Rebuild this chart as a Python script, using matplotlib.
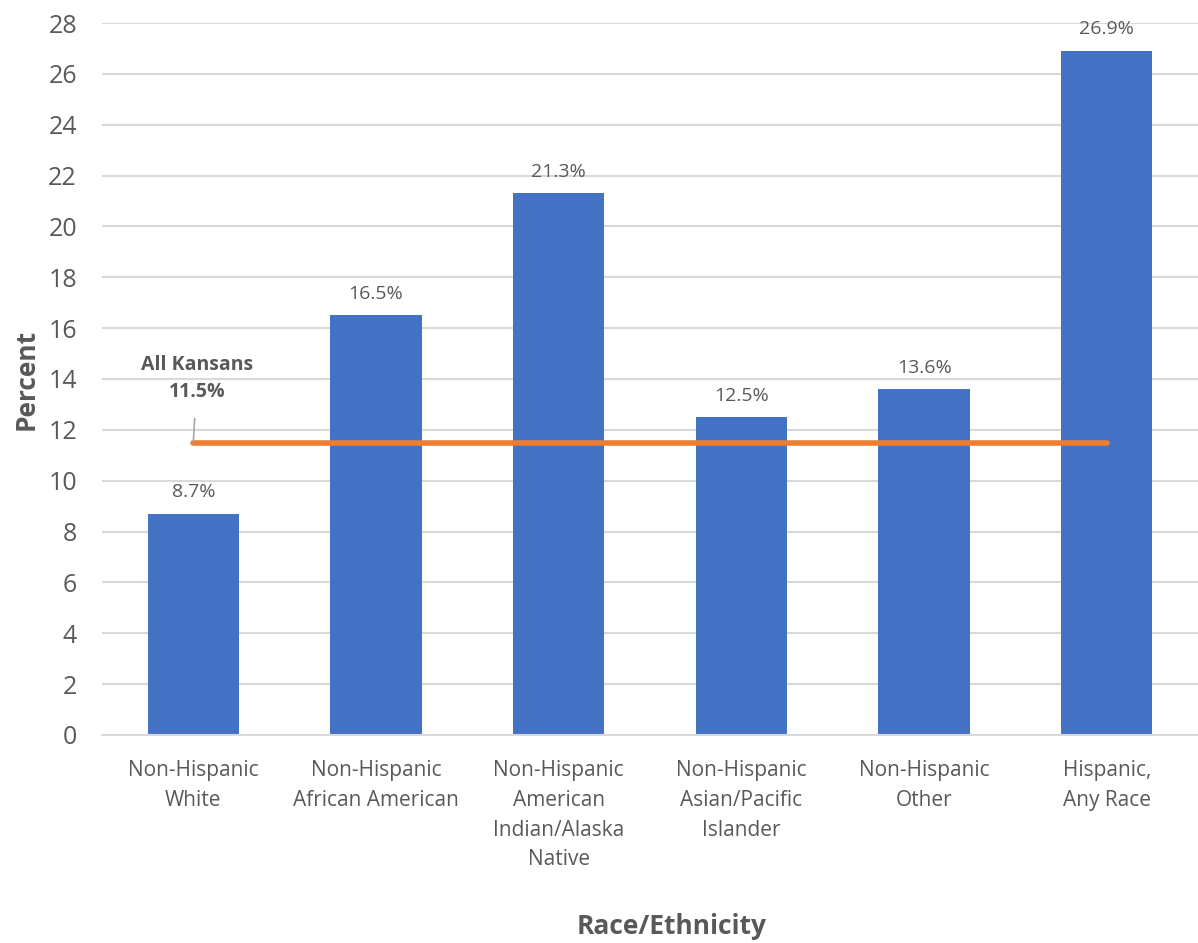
import numpy as np
import matplotlib.pyplot as plt

# Data
categories = ['Non-Hispanic\nWhite', 'Non-Hispanic\nAfrican American',
              'Non-Hispanic\nAmerican\nIndian/Alaska\nNative',
              'Non-Hispanic\nAsian/Pacific\nIslander', 'Non-Hispanic\nOther',
              'Hispanic,\nAny Race']
values = [8.7, 16.5, 21.3, 12.5, 13.6, 26.9]
all_kansans = 11.5
y_ticks = list(range(0, 29, 2))

plt.rcParams['font.family'] = ['Open Sans', 'DejaVu Sans']
text_color = '#595959'

fig = plt.figure(figsize=(11.98, 9.43), dpi=100)
ax = fig.add_axes([0.0851, 0.2206, 0.915, 0.755])

x = np.arange(len(categories))
bars = ax.bar(x, values, width=0.5, color='#4472C4', zorder=2)
ax.bar_label(bars, labels=[f'{v:.1f}%' for v in values], padding=9,
             fontsize=14, color=text_color)

# state-wide reference line
ax.plot(x, [all_kansans] * len(x), color='#ED7D31', lw=4,
        solid_capstyle='round', zorder=3)
ax.annotate(f'All Kansans\n{all_kansans}%', xy=(x[0], all_kansans),
            xytext=(x[0] + 0.02, all_kansans + 1.6), ha='center', va='bottom',
            fontsize=14, fontweight='bold', color=text_color, linespacing=1.45,
            arrowprops=dict(arrowstyle='-', color='#A6A6A6', lw=1.2,
                            shrinkA=10, shrinkB=0))

ax.set_xlim(-0.5, 5.5)
ax.set_ylim(0, 28)
ax.set_yticks(y_ticks)
ax.set_xticks(x)
ax.set_xticklabels(categories, fontsize=15, color=text_color, linespacing=1.55)
ax.tick_params(axis='y', labelsize=18, colors=text_color, length=0, pad=18)
ax.tick_params(axis='x', length=0, pad=18)
ax.grid(axis='y', color='#D9D9D9', lw=1.5, zorder=0)
ax.set_axisbelow(True)
for s in ['top', 'right', 'left']:
    ax.spines[s].set_visible(False)
ax.spines['bottom'].set_color('#D9D9D9')
ax.spines['bottom'].set_linewidth(1.5)

ax.set_ylabel('Percent', fontsize=19, fontweight='bold', color=text_color)
ax.yaxis.set_label_coords(-0.057, 0.5)
ax.set_xlabel('Race/Ethnicity', fontsize=19, fontweight='bold', color=text_color)
ax.xaxis.set_label_coords(0.52, -0.25)

fig.savefig('out.png', dpi=100)
